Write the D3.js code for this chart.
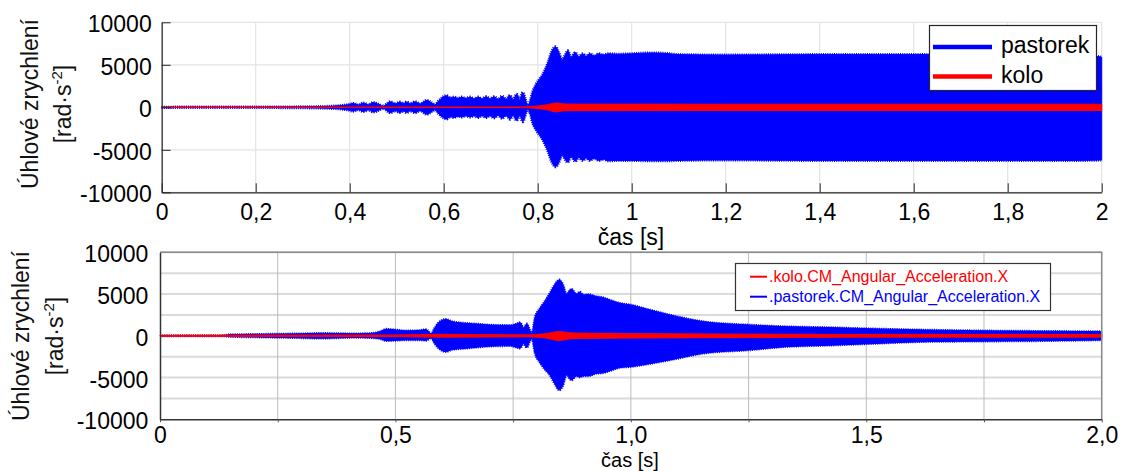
<!DOCTYPE html>
<html>
<head>
<meta charset="utf-8">
<script src="https://cdn.jsdelivr.net/npm/d3@7/dist/d3.min.js"></script>
<style>
  html, body { margin: 0; padding: 0; background: #fff; }
  svg { display: block; font-family: "Liberation Sans", Arial, sans-serif; }
</style>
</head>
<body>
<svg id="chart" width="1122" height="471"></svg>
<script>
// ---- Upper panel: envelope of angular acceleration, pinion (pastorek) and gear (kolo)
const topTime = [0, 0.2, 0.3, 0.35, 0.38, 0.395, 0.408, 0.418, 0.429, 0.44, 0.45, 0.462, 0.471, 0.478, 0.486, 0.497, 0.507, 0.514, 0.521, 0.53, 0.539, 0.55, 0.564, 0.575, 0.581, 0.59, 0.6, 0.606, 0.614, 0.622, 0.63, 0.638, 0.647, 0.656, 0.665, 0.673, 0.682, 0.69, 0.699, 0.707, 0.716, 0.724, 0.733, 0.741, 0.748, 0.755, 0.762, 0.768, 0.775, 0.778, 0.783, 0.79, 0.797, 0.811, 0.822, 0.829, 0.838, 0.845, 0.852, 0.858, 0.864, 0.871, 0.88, 0.887, 0.896, 0.903, 0.911, 0.92, 0.93, 0.94, 0.95, 0.97, 1.0, 1.04, 1.07, 1.1, 1.2, 1.4, 1.6, 1.8, 1.95, 2.0];
const topPastorekMax = [20, 30, 60, 110, 200, 300, 450, 280, 500, 300, 560, 350, 120, 350, 650, 420, 620, 430, 620, 420, 650, 400, 820, 500, 300, 800, 1250, 1370, 1100, 1200, 1050, 1200, 1050, 1200, 1000, 1200, 1000, 1250, 1000, 1250, 950, 1300, 950, 1400, 900, 1550, 900, 1750, 700, 150, 600, 1950, 2740, 3900, 5270, 6450, 7110, 6450, 5560, 6100, 6650, 5860, 6450, 5950, 6300, 6000, 6300, 6050, 6300, 6150, 6300, 6250, 6300, 6400, 6350, 6200, 6150, 6200, 6200, 6200, 6200, 5900];
const topPastorekMin = [-20, -30, -60, -110, -200, -300, -450, -280, -500, -300, -560, -350, -120, -350, -650, -420, -620, -430, -620, -420, -650, -400, -820, -500, -300, -800, -1250, -1380, -1100, -1200, -1050, -1150, -1000, -1150, -1000, -1200, -1000, -1200, -1000, -1250, -950, -1300, -950, -1400, -900, -1550, -900, -1700, -700, -150, -600, -1950, -2700, -3850, -5200, -6300, -7000, -6500, -5600, -6100, -6450, -5800, -6350, -5900, -6250, -5950, -6250, -6000, -6250, -6100, -6300, -6250, -6250, -6300, -6300, -6250, -6200, -6250, -6250, -6250, -6250, -6200];

const topKoloTime = [0, 0.76, 0.78, 0.8, 0.82, 0.84, 0.85, 0.86, 0.9, 1.2, 2.0];
const topKoloMax = [20, 40, 60, 150, 300, 520, 450, 380, 380, 360, 360];
const topKoloMin = [-20, -40, -60, -150, -300, -550, -450, -400, -400, -380, -380];

// ---- Lower panel: simulation output of the same quantities
const bottomTime = [0, 0.13, 0.15, 0.2, 0.25, 0.3, 0.34, 0.38, 0.41, 0.45, 0.467, 0.481, 0.502, 0.523, 0.551, 0.565, 0.576, 0.583, 0.593, 0.607, 0.621, 0.65, 0.678, 0.701, 0.744, 0.758, 0.765, 0.772, 0.779, 0.786, 0.79, 0.796, 0.807, 0.817, 0.828, 0.838, 0.848, 0.856, 0.863, 0.874, 0.884, 0.892, 0.899, 0.91, 0.927, 0.94, 0.955, 0.977, 1.0, 1.034, 1.083, 1.154, 1.252, 1.331, 1.416, 1.508, 1.628, 1.751, 1.876, 2.0];
const bottomPastorekMax = [15, 15, 150, 180, 220, 250, 300, 280, 250, 300, 500, 800, 700, 600, 650, 750, 250, 900, 1650, 1980, 1700, 1500, 1400, 1300, 1250, 1450, 1600, 900, 1450, 600, 300, 2100, 3300, 4100, 5100, 6100, 6700, 6100, 5000, 5600, 5000, 5250, 4900, 4950, 4700, 4600, 4300, 3900, 3700, 3200, 2500, 1700, 1300, 1100, 1000, 850, 700, 600, 550, 500];
const bottomPastorekMin = [-15, -15, -100, -150, -200, -250, -300, -250, -200, -250, -350, -600, -550, -500, -500, -550, -250, -900, -1550, -1900, -1650, -1500, -1350, -1250, -1200, -1400, -1500, -900, -1400, -600, -300, -2000, -3200, -4000, -4700, -5700, -6500, -5900, -4700, -5300, -4800, -4950, -4800, -4800, -4500, -4450, -4200, -3800, -3700, -3400, -2900, -2100, -1700, -1300, -1150, -950, -700, -650, -600, -500];

const bottomKoloTime = [0, 0.5, 0.6, 0.78, 0.82, 0.848, 0.87, 0.9, 1.0, 1.25, 1.5, 2.0];
const bottomKoloMax = [50, 80, 150, 100, 250, 500, 350, 300, 250, 180, 150, 150];
const bottomKoloMin = [-50, -80, -150, -100, -250, -550, -350, -300, -250, -200, -150, -150];

// ---- Axis ticks and labels
const topXTicks = [0, 0.2, 0.4, 0.6, 0.8, 1.0, 1.2, 1.4, 1.6, 1.8, 2.0];
const topXLabels = ["0", "0,2", "0,4", "0,6", "0,8", "1", "1,2", "1,4", "1,6", "1,8", "2"];
const bottomXTicks = [0, 0.5, 1.0, 1.5, 2.0];
const bottomXLabels = ["0", "0,5", "1,0", "1,5", "2,0"];
const bottomXGrid = [0.25, 0.5, 0.75, 1.0, 1.25, 1.5, 1.75, 2.0];
const yTicks = [-10000, -5000, 0, 5000, 10000];
const yLabels = ["-10000", "-5000", "0", "5000", "10000"];
const bottomYGrid = [-7500, -5000, -2500, 0, 2500, 5000, 7500, 10000];

const topLegend = ["pastorek", "kolo"];
const bottomLegend = [".kolo.CM_Angular_Acceleration.X", ".pastorek.CM_Angular_Acceleration.X"];
const xTitle = "čas [s]";
const yTitle = "Úhlové zrychlení";

const BLUE = "#0000ff", RED = "#ff0000";
const svg = d3.select("#chart");
svg.append("rect").attr("width", 1122).attr("height", 471).attr("fill", "#fff");

function rows(t, hi, lo) { return t.map((v, i) => ({ t: v, hi: hi[i], lo: lo[i] })); }

function drawBand(g, x, y, data, color, edge) {
  const area = d3.area().x(d => x(d.t)).y0(d => y(d.lo)).y1(d => y(d.hi)).curve(d3.curveMonotoneX);
  g.append("path").attr("d", area(data)).attr("fill", color).attr("stroke", color).attr("stroke-width", 1);
  if (edge) {
    // fine oscillation fringe along the envelope
    ["hi", "lo"].forEach(k => {
      const line = d3.line().x(d => x(d.t)).y(d => y(d[k])).curve(d3.curveMonotoneX);
      g.append("path").attr("d", line(data)).attr("fill", "none")
        .attr("stroke", color).attr("stroke-width", edge).attr("stroke-dasharray", "1 1.2");
    });
  }
}

function yAxisTitle(g, x1, x2, cy) {
  g.append("text").attr("transform", `translate(${x1},${cy}) rotate(-90)`)
    .attr("text-anchor", "middle").attr("font-size", 23).attr("fill", "#111").text(yTitle);
  const t = g.append("text").attr("transform", `translate(${x2},${cy}) rotate(-90)`)
    .attr("text-anchor", "middle").attr("font-size", 23).attr("fill", "#111");
  t.append("tspan").text("[rad·s");
  t.append("tspan").attr("dy", -9).attr("font-size", 15).text("-2");
  t.append("tspan").attr("dy", 9).text("]");
}

// ================= Upper panel =================
{
  const x = d3.scaleLinear([0, 2], [161.7, 1101.7]);
  const y = d3.scaleLinear([-10000, 10000], [192.3, 22.3]);
  const g = svg.append("g");

  // grid
  g.append("g").selectAll("line").data(topXTicks).join("line")
    .attr("x1", d => x(d)).attr("x2", d => x(d)).attr("y1", y(10000)).attr("y2", y(-10000))
    .attr("stroke", "#e3e3e3").attr("stroke-width", 1.2);
  g.append("g").selectAll("line").data(yTicks).join("line")
    .attr("x1", x(0)).attr("x2", x(2)).attr("y1", d => y(d)).attr("y2", d => y(d))
    .attr("stroke", "#e3e3e3").attr("stroke-width", 1.2);

  drawBand(g, x, y, rows(topTime, topPastorekMax, topPastorekMin), BLUE, 3);
  drawBand(g, x, y, rows(topKoloTime, topKoloMax, topKoloMin), RED, 0);

  // axes
  const ax = g.append("g").attr("transform", `translate(0,${y(-10000)})`)
    .call(d3.axisBottom(x).tickValues(topXTicks).tickSize(-9).tickPadding(11).tickSizeOuter(0)
      .tickFormat((d, i) => topXLabels[i]));
  const ay = g.append("g").attr("transform", `translate(${x(0)},0)`)
    .call(d3.axisLeft(y).tickValues(yTicks).tickSize(-9).tickPadding(10).tickSizeOuter(0)
      .tickFormat((d, i) => yLabels[i]));
  [ax, ay].forEach(a => {
    a.select(".domain").attr("stroke", "#262626").attr("stroke-width", 1.2);
    a.selectAll(".tick line").attr("stroke", "#262626");
    a.selectAll("text").attr("font-size", 23).attr("fill", "#000").attr("font-family", "Liberation Sans, Arial, sans-serif");
  });
  ay.selectAll("text").attr("dy", "0.42em");

  g.append("text").attr("x", 631).attr("y", 245).attr("text-anchor", "middle")
    .attr("font-size", 23).attr("fill", "#000").text(xTitle);
  yAxisTitle(g, 37.5, 70.5, 104);

  // legend
  const lg = g.append("g");
  lg.append("rect").attr("x", 929.5).attr("y", 25.5).attr("width", 167).attr("height", 65)
    .attr("fill", "#fff").attr("stroke", "#262626").attr("stroke-width", 1.2);
  [BLUE, RED].forEach((c, i) => {
    const yy = 47 + i * 29.5;
    lg.append("line").attr("x1", 933).attr("x2", 992).attr("y1", yy).attr("y2", yy)
      .attr("stroke", c).attr("stroke-width", 4.5);
    lg.append("text").attr("x", 1001).attr("y", yy + 6).attr("font-size", 23).attr("fill", "#000")
      .text(topLegend[i]);
  });
}

// ================= Lower panel =================
{
  const x = d3.scaleLinear([0, 2], [160, 1101.7]);
  const y = d3.scaleLinear([-10000, 10000], [419.3, 252.3]);
  const g = svg.append("g");

  g.append("g").selectAll("line").data(bottomYGrid).join("line")
    .attr("x1", x(0)).attr("x2", x(2)).attr("y1", d => y(d)).attr("y2", d => y(d))
    .attr("stroke", "#dadada").attr("stroke-width", 2);
  g.append("g").selectAll("line").data(bottomXGrid).join("line")
    .attr("x1", d => x(d)).attr("x2", d => x(d)).attr("y1", y(10000)).attr("y2", y(-10000))
    .attr("stroke", "#bcbcbc").attr("stroke-width", 1);

  drawBand(g, x, y, rows(bottomTime, bottomPastorekMax, bottomPastorekMin), BLUE, 2.5);
  drawBand(g, x, y, rows(bottomKoloTime, bottomKoloMax, bottomKoloMin), RED, 1.5);

  // frame: top and right in gray
  g.append("path").attr("d", `M${x(0)},${y(10000)}H${x(2)}V${y(-10000)}`)
    .attr("fill", "none").attr("stroke", "#8a8a8a").attr("stroke-width", 1.5);

  const ax = g.append("g").attr("transform", `translate(0,${y(-10000)})`)
    .call(d3.axisBottom(x).tickValues(bottomXGrid.concat([0])).tickSize(3).tickPadding(4).tickSizeOuter(0)
      .tickFormat(d => { const i = bottomXTicks.indexOf(d); return i >= 0 ? bottomXLabels[i] : ""; }));
  const ay = g.append("g").attr("transform", `translate(${x(0)},0)`)
    .call(d3.axisLeft(y).tickValues(yTicks).tickSize(0).tickPadding(11.7).tickSizeOuter(0)
      .tickFormat((d, i) => yLabels[i]));
  [ax, ay].forEach(a => {
    a.select(".domain").attr("stroke", "#333").attr("stroke-width", 1.5);
    a.selectAll(".tick line").attr("stroke", "#555");
    a.selectAll("text").attr("font-size", 23).attr("fill", "#000").attr("font-family", "Liberation Sans, Arial, sans-serif");
  });
  ay.selectAll("text").attr("dy", "0.42em");

  g.append("text").attr("x", 630).attr("y", 466.5).attr("text-anchor", "middle")
    .attr("font-size", 20).attr("fill", "#000").text(xTitle);
  yAxisTitle(g, 29, 62.5, 336);

  const lg = g.append("g");
  lg.append("rect").attr("x", 735.5).attr("y", 263.5).attr("width", 315).attr("height", 47)
    .attr("fill", "#fff").attr("stroke", "#333").attr("stroke-width", 1.2);
  [RED, BLUE].forEach((c, i) => {
    const yy = 276.7 + i * 20;
    lg.append("line").attr("x1", 750).attr("x2", 767).attr("y1", yy).attr("y2", yy)
      .attr("stroke", c).attr("stroke-width", 2);
    lg.append("text").attr("x", 769).attr("y", yy + 5.5).attr("font-size", 16).attr("fill", c)
      .text(bottomLegend[i]);
  });
}
</script>
</body>
</html>
